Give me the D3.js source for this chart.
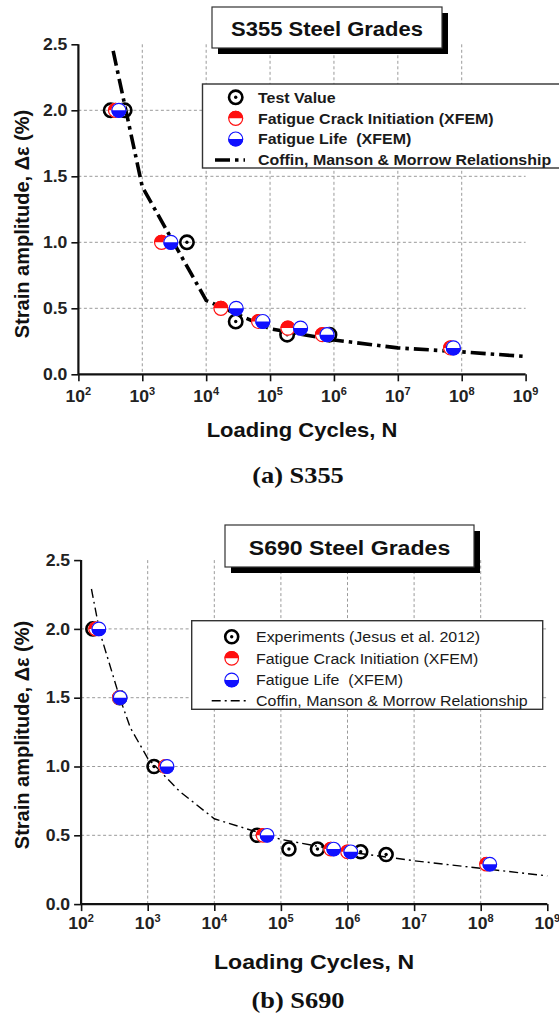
<!DOCTYPE html>
<html><head><meta charset="utf-8">
<script src="https://cdn.jsdelivr.net/npm/d3@7"></script>
<style>
html,body{margin:0;padding:0;background:#fff;}
svg{display:block;}
text{white-space:pre;}
</style></head>
<body>
<svg id="chart" width="559" height="1016"></svg>
<script>
// ---------- DATA ----------
const xExponents = [2,3,4,5,6,7,8,9];
const yTickValues = [0,0.5,1.0,1.5,2.0,2.5];

// S355
const s355TestN = [320, 530, 5000, 29000, 185000, 850000];
const s355TestE = [2.0, 2.0, 1.0, 0.4, 0.3, 0.3];
const s355InitN = [380, 2000, 17000, 66000, 190000, 660000, 67000000];
const s355InitE = [2.0, 1.0, 0.5, 0.4, 0.35, 0.3, 0.2];
const s355LifeN = [430, 2800, 29500, 77000, 300000, 780000, 74000000];
const s355LifeE = [2.0, 1.0, 0.5, 0.4, 0.35, 0.3, 0.2];
const s355CurveN = [350, 1000, 10000, 100000, 1000000, 10000000, 100000000, 1000000000];
const s355CurveE = [2.45, 1.42, 0.56, 0.345, 0.26, 0.2, 0.17, 0.135];

// S690
const s690TestN = [150, 380, 1245, 44000, 132000, 354000, 1580000, 3800000];
const s690TestE = [2.0, 1.5, 1.0, 0.5, 0.4, 0.4, 0.38, 0.36];
const s690InitN = [165, 375, 1850, 54000, 560000, 1000000, 122000000];
const s690InitE = [2.0, 1.5, 1.0, 0.5, 0.4, 0.38, 0.29];
const s690LifeN = [185, 385, 1950, 62000, 620000, 1120000, 137000000];
const s690LifeE = [2.0, 1.5, 1.0, 0.5, 0.4, 0.38, 0.29];
const s690CurveN = [143, 190, 380, 550, 1000, 3000, 10000, 100000, 1000000, 10000000, 100000000, 1000000000];
const s690CurveE = [2.29, 1.98, 1.5, 1.28, 1.06, 0.82, 0.62, 0.47, 0.38, 0.315, 0.26, 0.205];

const s355Legend = ["Test Value", "Fatigue Crack Initiation (XFEM)", "Fatigue Life  (XFEM)", "Coffin, Manson & Morrow Relationship"];
const s690Legend = ["Experiments (Jesus et al. 2012)", "Fatigue Crack Initiation (XFEM)", "Fatigue Life  (XFEM)", "Coffin, Manson & Morrow Relationship"];

const xTitle = "Loading Cycles, N";
const yTitle = "Strain amplitude, Δε (%)";

// ---------- DRAW ----------
const svg = d3.select("#chart");
const SANS = "'Liberation Sans', Arial, sans-serif";
const SERIF = "'Liberation Serif', 'Times New Roman', serif";
const RED = "#ff1010", BLUE = "#1010ff";
const SX = 1.1; // horizontal stretch of the original figure's lettering

const zip = (a,b) => a.map((v,i)=>[v,b[i]]);

function txt(g,x,y,opts){
  const t = g.append("text")
    .attr("transform",`translate(${x},${y}) scale(${SX},1)`)
    .attr("text-anchor",opts.anchor||"start")
    .attr("font-family",opts.family||SANS)
    .attr("font-weight",opts.weight||"bold")
    .attr("font-size",opts.size)
    .attr("fill",opts.fill||"#111");
  if(opts.dy) t.attr("dy",opts.dy);
  if(opts.text!==undefined) t.text(opts.text);
  return t;
}

function panel(cfg){
  const g = svg.append("g");
  const x = d3.scaleLog().domain([1e2,1e9]).range([cfg.x0, cfg.x1]);
  const y = d3.scaleLinear().domain([0,2.5]).range([cfg.y0, cfg.y1]);
  const uid = cfg.id;
  g.append("clipPath").attr("id","clip"+uid).append("rect")
    .attr("x",cfg.x0).attr("y",cfg.y1-20).attr("width",cfg.x1-cfg.x0+30).attr("height",cfg.y0-cfg.y1+20);

  // grid
  const grid = g.append("g").attr("stroke","#9a9a9a").attr("stroke-width",1).attr("stroke-dasharray","3,2.5");
  xExponents.filter(e=>e>2 && e<9).forEach(e=>{
    grid.append("line").attr("x1",x(Math.pow(10,e))).attr("x2",x(Math.pow(10,e)))
      .attr("y1",y(2.5)).attr("y2",y(0));
  });
  yTickValues.filter(v=>v>0 && v<2.5).forEach(v=>{
    grid.append("line").attr("x1",x(1e2)).attr("x2",x(1e9)).attr("y1",y(v)).attr("y2",y(v));
  });

  // axes
  const xMinor = [];
  for(let e=2;e<9;e++) for(let k=2;k<=9;k++) xMinor.push(k*Math.pow(10,e));
  const xAxisMinor = d3.axisBottom(x).tickValues(xMinor).tickSize(4).tickFormat("");
  const xAxisMajor = d3.axisBottom(x).tickValues(xExponents.map(e=>Math.pow(10,e))).tickSize(7).tickFormat("");
  const ax = g.append("g").attr("transform",`translate(0,${y(0)})`);
  ax.call(xAxisMinor); ax.call(xAxisMajor);
  const yMinor = d3.range(0.25,2.5,0.5);
  const ay = g.append("g").attr("transform",`translate(${x(1e2)},0)`);
  ay.call(d3.axisLeft(y).tickValues(yMinor).tickSize(4).tickFormat(""));
  ay.call(d3.axisLeft(y).tickValues(yTickValues).tickSize(7).tickFormat(""));
  [ax,ay].forEach(a=>{
    a.selectAll(".domain").attr("stroke","#111").attr("stroke-width",2.2);
    a.selectAll(".tick line").attr("stroke","#111").attr("stroke-width",1.6);
  });
  ay.select(".domain").attr("d",`M0,${y(2.5)}V${y(0)}`);
  ax.select(".domain").attr("d",`M${x(1e2)},0H${x(1e9)}`);

  // tick labels
  xExponents.forEach(e=>{
    const t = txt(g,x(Math.pow(10,e)),cfg.xLabBase,{anchor:"middle",size:16,fill:"#222"});
    t.append("tspan").text("10");
    t.append("tspan").attr("font-size",10).attr("dy",-7).text(e);
  });
  yTickValues.forEach(v=>{
    txt(g,x(1e2)-11,y(v),{anchor:"end",size:16,fill:"#222",dy:"0.35em",text:v.toFixed(1)});
  });

  // titles
  g.append("text").attr("transform",`translate(${cfg.yTitleX},${cfg.yTitleY}) rotate(-90)`)
    .attr("text-anchor","middle").attr("font-family",SANS).attr("font-weight","bold")
    .attr("font-size",20).attr("fill","#111").text(yTitle);
  txt(g,cfg.xTitleX,cfg.xTitleBase,{anchor:"middle",size:cfg.xTitleFs,text:xTitle});
  txt(g,cfg.capX,cfg.capBase,{anchor:"middle",size:24,family:SERIF,text:cfg.caption});

  // curve
  const line = d3.line().x(d=>x(d[0])).y(d=>y(d[1]));
  g.append("path").datum(zip(cfg.curveN,cfg.curveE)).attr("d",line)
    .attr("fill","none").attr("stroke","#000").attr("stroke-width",cfg.curveW)
    .attr("stroke-dasharray",cfg.curveDash).attr("clip-path",`url(#clip${uid})`);

  // markers
  const mk = g.append("g");
  zip(cfg.testN,cfg.testE).forEach(d=>drawTest(mk,x(d[0]),y(d[1]),cfg.r));
  zip(cfg.initN,cfg.initE).forEach(d=>drawHalf(mk,x(d[0]),y(d[1]),cfg.r,RED,true));
  zip(cfg.lifeN,cfg.lifeE).forEach(d=>drawHalf(mk,x(d[0]),y(d[1]),cfg.r,BLUE,false));

  // title box
  const tb = cfg.tbox;
  g.append("rect").attr("x",tb.x+6).attr("y",tb.y+6).attr("width",tb.w).attr("height",tb.h).attr("fill","#000");
  g.append("rect").attr("x",tb.x).attr("y",tb.y).attr("width",tb.w).attr("height",tb.h)
    .attr("fill","#fff").attr("stroke","#333").attr("stroke-width",1.2);
  txt(g,tb.x+tb.w/2,tb.base,{anchor:"middle",size:tb.fs,text:cfg.title});

  // legend
  const lg = cfg.leg;
  g.append("rect").attr("x",lg.x).attr("y",lg.y).attr("width",lg.w).attr("height",lg.h)
    .attr("fill","#fff").attr("stroke","#333").attr("stroke-width",1.4);
  cfg.legendText.forEach((s,i)=>{
    const cy = lg.rows[i];
    if(i===0) drawTest(g,lg.mx,cy,cfg.r);
    if(i===1) drawHalf(g,lg.mx,cy,cfg.r,RED,true);
    if(i===2) drawHalf(g,lg.mx,cy,cfg.r,BLUE,false);
    if(i===3) g.append("line").attr("x1",lg.l1).attr("x2",lg.l2).attr("y1",cy).attr("y2",cy)
      .attr("stroke","#000").attr("stroke-width",cfg.curveW).attr("stroke-dasharray",cfg.legDash);
    txt(g,lg.tx,cy,{size:lg.fs,weight:lg.fw,fill:"#1a1a1a",dy:"0.36em",text:s});
  });
}

function drawTest(g,cx,cy,r){
  g.append("circle").attr("cx",cx).attr("cy",cy).attr("r",r-0.8).attr("fill","none")
    .attr("stroke","#000").attr("stroke-width",2.6);
  g.append("circle").attr("cx",cx).attr("cy",cy).attr("r",1.7).attr("fill","#000");
}
function drawHalf(g,cx,cy,r,col,topFilled){
  g.append("circle").attr("cx",cx).attr("cy",cy).attr("r",r).attr("fill","#fff");
  const arc = topFilled
    ? `M${cx-r},${cy}A${r},${r} 0 0 1 ${cx+r},${cy}Z`
    : `M${cx-r},${cy}A${r},${r} 0 0 0 ${cx+r},${cy}Z`;
  g.append("path").attr("d",arc).attr("fill",col);
  g.append("circle").attr("cx",cx).attr("cy",cy).attr("r",r-0.5).attr("fill","none")
    .attr("stroke",col).attr("stroke-width",1.2);
}

panel({
  id:"a", x0:78.4, x1:525.6, y0:374.3, y1:44.3, xLabBase:402,
  yTitleX:29, yTitleY:224, xTitleX:302, xTitleBase:437, xTitleFs:20, capX:298, capBase:483, caption:"(a) S355",
  curveN:s355CurveN, curveE:s355CurveE, curveW:3.6, curveDash:"15,5,3.5,5", legDash:"15,5,3.5,5",
  testN:s355TestN, testE:s355TestE, initN:s355InitN, initE:s355InitE, lifeN:s355LifeN, lifeE:s355LifeE,
  r:7.5, title:"S355 Steel Grades",
  tbox:{x:212,y:7,w:230,h:41,base:35.5,fs:20},
  leg:{x:202.5,y:84,w:370,h:84,rows:[97.3,118.3,139,160],mx:235.7,tx:258,l1:215,l2:245,fs:14.5,fw:"bold"},
  legendText:s355Legend
});
panel({
  id:"b", x0:81.1, x1:547.3, y0:904.1, y1:560.1, xLabBase:929,
  yTitleX:29, yTitleY:735, xTitleX:314, xTitleBase:969, xTitleFs:21, capX:298, capBase:1008, caption:"(b) S690",
  curveN:s690CurveN, curveE:s690CurveE, curveW:1.4, curveDash:"9,4,2,4", legDash:"9,4,2,4",
  testN:s690TestN, testE:s690TestE, initN:s690InitN, initE:s690InitE, lifeN:s690LifeN, lifeE:s690LifeE,
  r:7.3, title:"S690 Steel Grades",
  tbox:{x:225,y:525,w:249,h:42,base:555,fs:21},
  leg:{x:191.7,y:620.7,w:351,h:88.6,rows:[636.7,658.3,680,700.7],mx:231.7,tx:256,l1:211.7,l2:248.3,fs:14.5,fw:"normal"},
  legendText:s690Legend
});
</script>
</body></html>
